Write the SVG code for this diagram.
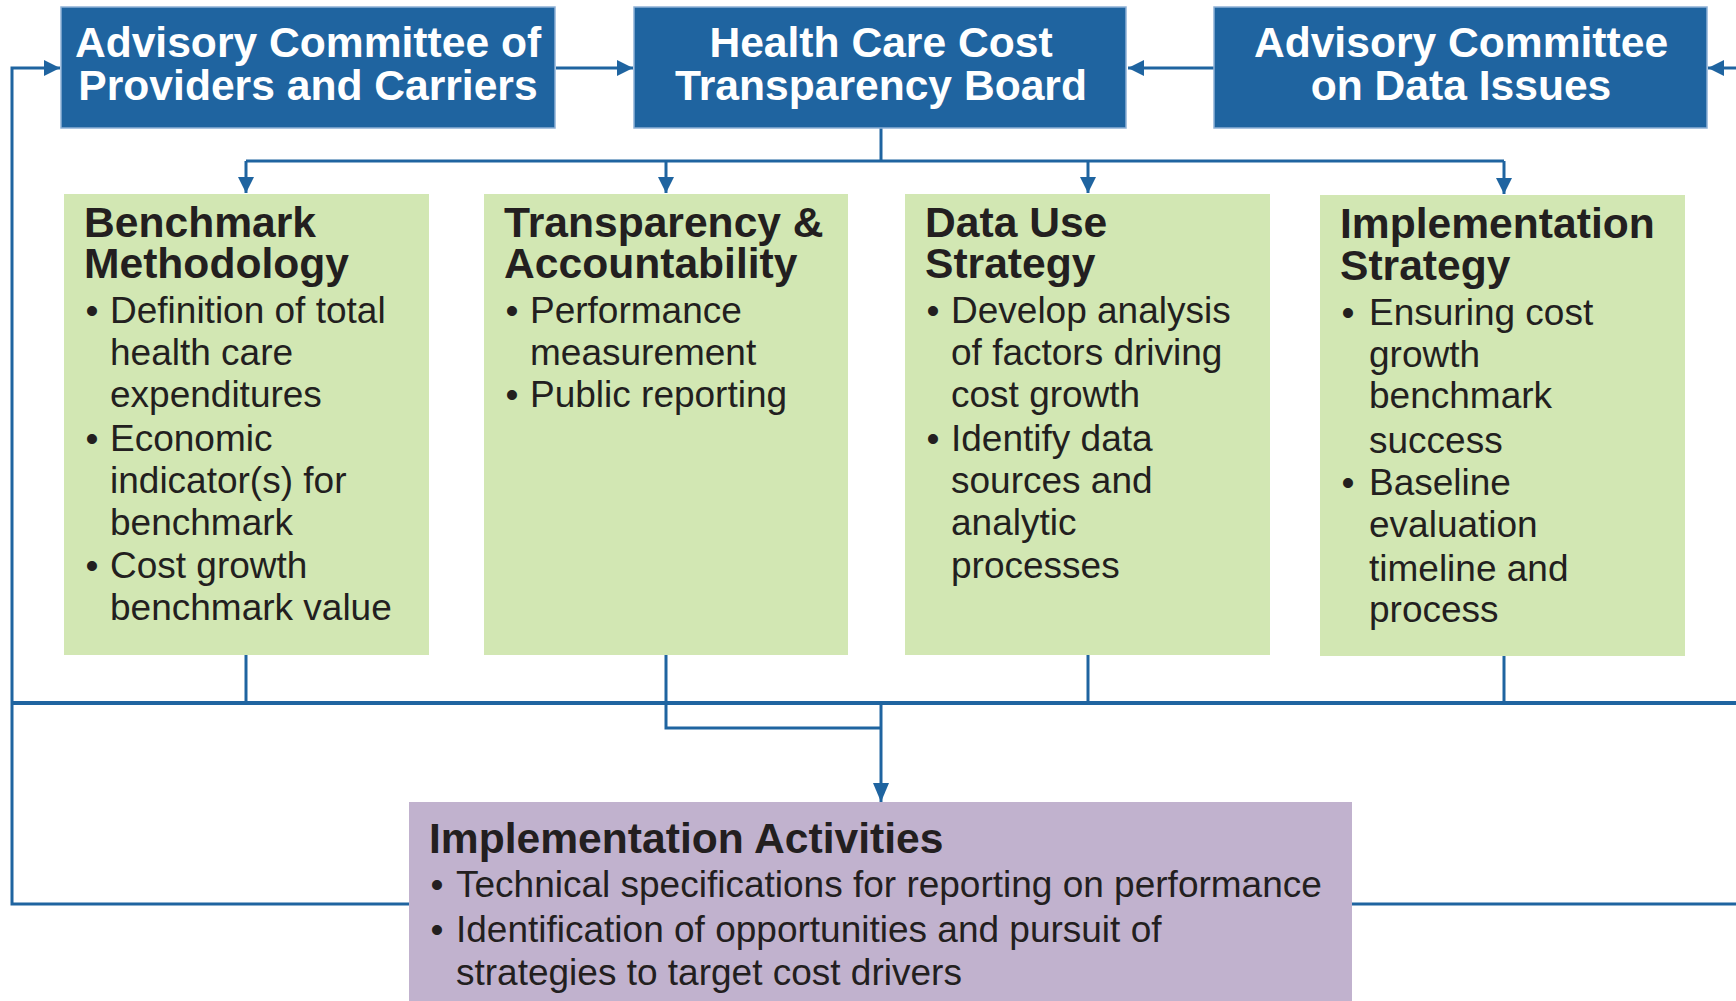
<svg xmlns="http://www.w3.org/2000/svg" width="1736" height="1001" viewBox="0 0 1736 1001">
<defs>
<style>
.hdr{fill:#1F64A0;stroke:#8FB1D6;stroke-width:1.5}
.green{fill:#D2E7B3}
.purple{fill:#C1B2CE}
.ht{font-family:"Liberation Sans",Arial,sans-serif;font-weight:bold;font-size:42.6px;fill:#FFFFFF;text-anchor:middle}
.tt{font-family:"Liberation Sans",Arial,sans-serif;font-weight:bold;font-size:42.6px;fill:#231F20}
.bt{font-family:"Liberation Sans",Arial,sans-serif;font-size:37px;fill:#231F20}
.bu{font-family:"Liberation Sans",Arial,sans-serif;font-size:37px;fill:#231F20;text-anchor:middle}
.ln{fill:none;stroke:#1F64A0;stroke-width:3}
.lnb{fill:none;stroke:#1F64A0;stroke-width:4}
</style>
<marker id="ah" markerUnits="userSpaceOnUse" viewBox="0 0 16 16" refX="16" refY="8" markerWidth="16" markerHeight="16" orient="auto">
<path d="M0,0 L16,8 L0,16 Z" fill="#1F64A0"/>
</marker>
<marker id="ahl" markerUnits="userSpaceOnUse" viewBox="0 0 19 16" refX="19" refY="8" markerWidth="19" markerHeight="16" orient="auto">
<path d="M0,0 L19,8 L0,16 Z" fill="#1F64A0"/>
</marker>
</defs>
<rect width="1736" height="1001" fill="#FFFFFF"/>

<g id="connectors">
<path class="ln" d="M409,904 L12,904 L12,68 L60,68" marker-end="url(#ah)"/>
<path class="ln" d="M1352,904 L1736,904"/>
<path class="ln" d="M1736,68 L1708,68" marker-end="url(#ah)"/>
<path class="ln" d="M556,68 L633,68" marker-end="url(#ah)"/>
<path class="ln" d="M1214,68 L1128,68" marker-end="url(#ah)"/>
<path class="ln" d="M881,128 L881,161"/>
<path class="ln" d="M246,161 L1504,161"/>
<path class="ln" d="M246,161 L246,193" marker-end="url(#ah)"/>
<path class="ln" d="M666,161 L666,193" marker-end="url(#ah)"/>
<path class="ln" d="M1088,161 L1088,193" marker-end="url(#ah)"/>
<path class="ln" d="M1504,161 L1504,194" marker-end="url(#ah)"/>
<path class="ln" d="M246,655 L246,703"/>
<path class="ln" d="M1088,655 L1088,703"/>
<path class="ln" d="M1504,656 L1504,703"/>
<path class="lnb" d="M12,703 L1736,703"/>
<path class="ln" d="M666,655 L666,728 L881,728"/>
<path class="ln" d="M881,703 L881,802" marker-end="url(#ahl)"/>
</g>

<g id="node-providers">
<rect class="hdr" x="61" y="7" width="494" height="121"/>
<text class="ht" x="308" y="57">Advisory Committee of</text>
<text class="ht" x="308" y="100">Providers and Carriers</text>
</g>

<g id="node-board">
<rect class="hdr" x="634" y="7" width="492" height="121"/>
<text class="ht" x="881" y="57">Health Care Cost</text>
<text class="ht" x="881" y="100">Transparency Board</text>
</g>

<g id="node-data">
<rect class="hdr" x="1214" y="7" width="493" height="121"/>
<text class="ht" x="1461" y="57">Advisory Committee</text>
<text class="ht" x="1461" y="100">on Data Issues</text>
</g>

<g id="node-benchmark">
<rect class="green" x="64" y="194" width="365" height="461"/>
<text class="tt" x="84" y="237">Benchmark</text>
<text class="tt" x="84" y="278">Methodology</text>
<text class="bu" x="92" y="323">•</text>
<text class="bt" x="110" y="323">Definition of total</text>
<text class="bt" x="110" y="365">health care</text>
<text class="bt" x="110" y="407">expenditures</text>
<text class="bu" x="92" y="451">•</text>
<text class="bt" x="110" y="451">Economic</text>
<text class="bt" x="110" y="493">indicator(s) for</text>
<text class="bt" x="110" y="535">benchmark</text>
<text class="bu" x="92" y="578">•</text>
<text class="bt" x="110" y="578">Cost growth</text>
<text class="bt" x="110" y="620">benchmark value</text>
</g>

<g id="node-transparency">
<rect class="green" x="484" y="194" width="364" height="461"/>
<text class="tt" x="504" y="237">Transparency &amp;</text>
<text class="tt" x="504" y="278">Accountability</text>
<text class="bu" x="512" y="323">•</text>
<text class="bt" x="530" y="323">Performance</text>
<text class="bt" x="530" y="365">measurement</text>
<text class="bu" x="512" y="407">•</text>
<text class="bt" x="530" y="407">Public reporting</text>
</g>

<g id="node-datause">
<rect class="green" x="905" y="194" width="365" height="461"/>
<text class="tt" x="925" y="237">Data Use</text>
<text class="tt" x="925" y="278">Strategy</text>
<text class="bu" x="933" y="323">•</text>
<text class="bt" x="951" y="323">Develop analysis</text>
<text class="bt" x="951" y="365">of factors driving</text>
<text class="bt" x="951" y="407">cost growth</text>
<text class="bu" x="933" y="451">•</text>
<text class="bt" x="951" y="451">Identify data</text>
<text class="bt" x="951" y="493">sources and</text>
<text class="bt" x="951" y="535">analytic</text>
<text class="bt" x="951" y="578">processes</text>
</g>

<g id="node-implementation-strategy">
<rect class="green" x="1320" y="195" width="365" height="461"/>
<text class="tt" x="1340" y="238">Implementation</text>
<text class="tt" x="1340" y="280">Strategy</text>
<text class="bu" x="1348" y="325">•</text>
<text class="bt" x="1369" y="325">Ensuring cost</text>
<text class="bt" x="1369" y="367">growth</text>
<text class="bt" x="1369" y="408">benchmark</text>
<text class="bt" x="1369" y="453">success</text>
<text class="bu" x="1348" y="495">•</text>
<text class="bt" x="1369" y="495">Baseline</text>
<text class="bt" x="1369" y="537">evaluation</text>
<text class="bt" x="1369" y="581">timeline and</text>
<text class="bt" x="1369" y="622">process</text>
</g>

<g id="node-activities">
<rect class="purple" x="409" y="802" width="943" height="199"/>
<text class="tt" x="429" y="853">Implementation Activities</text>
<text class="bu" x="437" y="897">•</text>
<text class="bt" x="456" y="897">Technical specifications for reporting on performance</text>
<text class="bu" x="437" y="942">•</text>
<text class="bt" x="456" y="942">Identification of opportunities and pursuit of</text>
<text class="bt" x="456" y="985">strategies to target cost drivers</text>
</g>
</svg>
